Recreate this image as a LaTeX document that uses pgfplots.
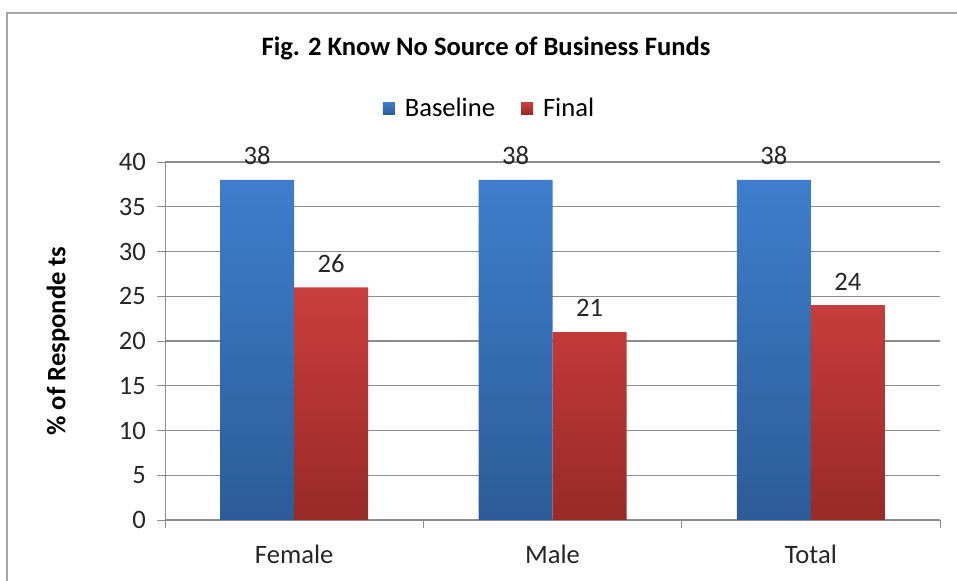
\documentclass[border=0pt]{standalone}
\usepackage{pgfplots}
\pgfplotsset{compat=1.18}
\usepackage{fontspec}
\setmainfont{Carlito}
\definecolor{bluetop}{RGB}{62,126,204}
\definecolor{bluebot}{RGB}{44,92,152}
\definecolor{redtop}{RGB}{202,62,60}
\definecolor{redbot}{RGB}{152,42,40}
\definecolor{gridgray}{RGB}{140,140,140}
\newcommand{\chartfont}{\fontsize{13.3}{15}\selectfont}
\begin{document}
\begin{tikzpicture}
  \path[use as bounding box] (0,0) rectangle (478.5pt,290.5pt);
  \draw[gray!70,line width=1pt] (3.5pt,0) -- (3.5pt,284pt) -- (478.5pt,284pt);
  \node[font=\bfseries\chartfont] at (243pt,266.5pt) {Fig. 2 Know No Source of Business Funds};
  \begin{axis}[
      at={(82.5pt,30.5pt)}, anchor=south west,
      scale only axis,
      width=387.5pt, height=179pt,
      ybar=0pt, bar width=37pt,
      ymin=0, ymax=40, ytick={0,5,...,40},
      xmin=-0.5, xmax=2.5,
      xtick={0,1,2},
      xticklabels={Female,Male,Total},
      minor xtick={-0.5,0.5,1.5,2.5},
      axis lines*=left,
      axis line style={gridgray},
      tick align=outside,
      major x tick style={draw=none},
      minor tick length=4pt,
      major tick length=4pt,
      every tick/.style={gridgray},
      ymajorgrids,
      grid style={gridgray,line width=0.6pt},
      /pgf/number format/assume math mode=true,
      tick label style={font=\chartfont, text=black!85},
      yticklabel style={xshift=-2pt},
      xticklabel style={yshift=-5pt},
      ylabel={\% of Responde ts},
      ylabel style={font=\bfseries\chartfont, at={(axis description cs:-0.138,0.5)}, anchor=center},
      nodes near coords,
      nodes near coords style={font=\chartfont, text=black!85, yshift=4pt},
      legend style={at={(axis description cs:0.42,1.15)}, anchor=center, draw=none, legend columns=2,
        font=\chartfont,
        /tikz/every odd column/.append style={column sep=3pt},
        /tikz/every even column/.append style={column sep=11pt}},
      legend image code/.code={\path[#1] (0cm,-0.105cm) rectangle (0.21cm,0.105cm);},
    ]
    \addplot[draw=none, top color=bluetop, bottom color=bluebot] coordinates {(0,38) (1,38) (2,38)};
    \addplot[draw=none, top color=redtop, bottom color=redbot] coordinates {(0,26) (1,21) (2,24)};
    \legend{Baseline,Final}
  \end{axis}
\end{tikzpicture}
\end{document}
